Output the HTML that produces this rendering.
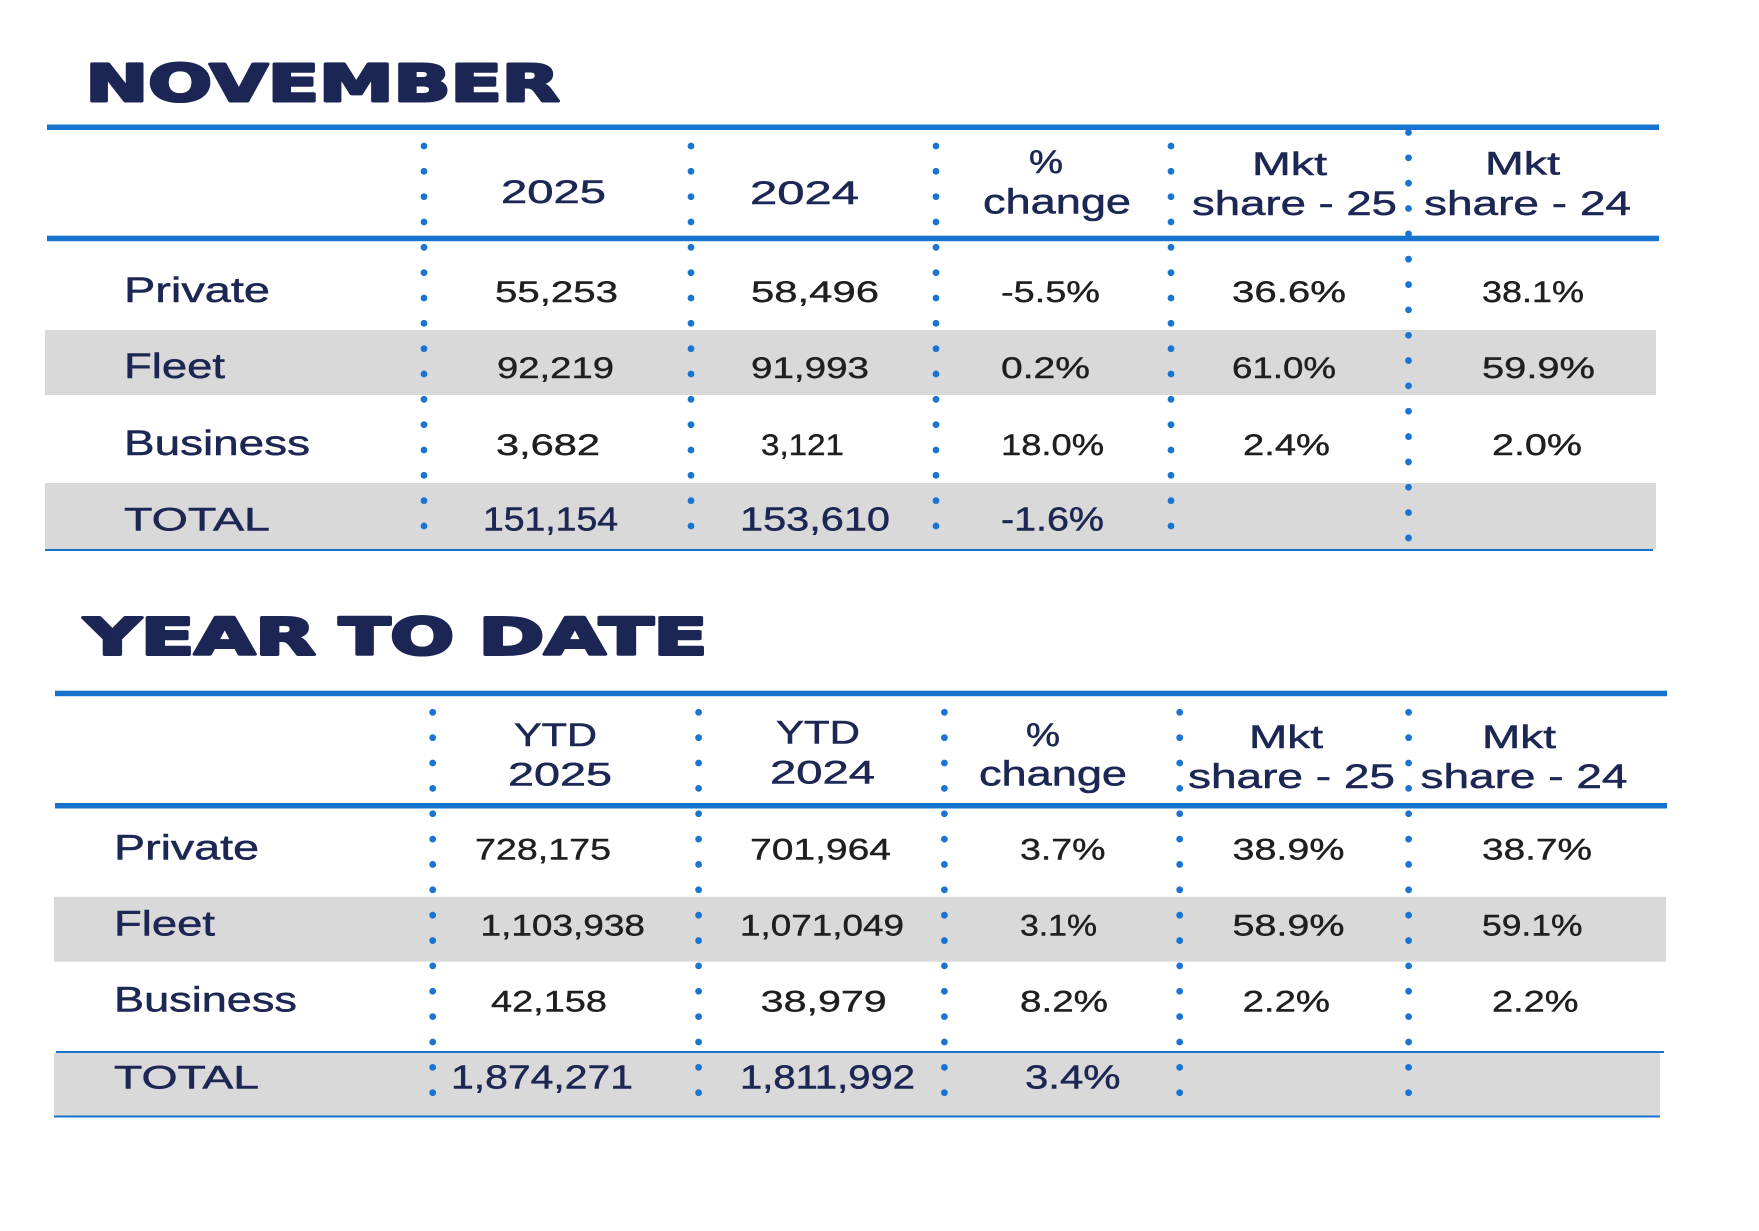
<!DOCTYPE html>
<html>
<head>
<meta charset="utf-8">
<style>
html,body{margin:0;padding:0;background:#fff;}
svg{display:block;}
.t{font-family:"Liberation Sans",Arial,sans-serif;}
.ttl{font-family:"DejaVu Sans","Liberation Sans",sans-serif;font-weight:bold;fill:#1c2654;stroke:#1c2654;stroke-width:3;stroke-linejoin:round;font-size:51px;}
.nv{fill:#1d2754;stroke:#1d2754;stroke-width:0.5;}
.bk{fill:#1f1f1f;stroke:#1f1f1f;stroke-width:0.4;font-size:29.5px;}
.h{font-size:32px;}
.lc{font-size:35px;}
.sh{font-size:34px;}
.lb{font-size:35px;}
.tot{font-size:32.5px;}
.tn{font-size:33px;}
.dot{stroke:#1a75d2;stroke-width:6.8;stroke-linecap:round;}
</style>
</head>
<body>
<svg width="1759" height="1231" viewBox="0 0 1759 1231" xmlns="http://www.w3.org/2000/svg">
<rect width="1759" height="1231" fill="#ffffff"/>

<!-- ============ TABLE 1 ============ -->
<rect x="45" y="330" width="1611" height="65" fill="#d9d9d9"/>
<rect x="45" y="483" width="1611" height="66" fill="#d9d9d9"/>
<rect x="47" y="124.5" width="1612" height="5.5" fill="#1674cf"/>
<rect x="47" y="235.7" width="1612" height="5.5" fill="#1674cf"/>
<rect x="45" y="549" width="1608" height="2" fill="#1674cf"/>

<line class="dot" x1="424" y1="146" x2="424" y2="527" stroke-dasharray="0 25.333"/>
<line class="dot" x1="691" y1="146" x2="691" y2="527" stroke-dasharray="0 25.333"/>
<line class="dot" x1="936" y1="146" x2="936" y2="527" stroke-dasharray="0 25.333"/>
<line class="dot" x1="1171" y1="146" x2="1171" y2="527" stroke-dasharray="0 25.333"/>
<line class="dot" x1="1408.5" y1="132.5" x2="1408.5" y2="539" stroke-dasharray="0 25.34"/>

<text class="ttl" x="85.5" y="101" textLength="474" lengthAdjust="spacingAndGlyphs">NOVEMBER</text>

<text class="t nv h" x="501" y="203" textLength="105" lengthAdjust="spacingAndGlyphs">2025</text>
<text class="t nv h" x="750" y="204" textLength="109" lengthAdjust="spacingAndGlyphs">2024</text>
<text class="t nv h" x="1029" y="173" textLength="34" lengthAdjust="spacingAndGlyphs">%</text>
<text class="t nv lc" x="983" y="213.5" textLength="148" lengthAdjust="spacingAndGlyphs">change</text>
<text class="t nv h" x="1252" y="175" textLength="75" lengthAdjust="spacingAndGlyphs">Mkt</text>
<text class="t nv sh" x="1192" y="215" textLength="205" lengthAdjust="spacingAndGlyphs">share - 25</text>
<text class="t nv h" x="1485" y="174.5" textLength="75" lengthAdjust="spacingAndGlyphs">Mkt</text>
<text class="t nv sh" x="1424" y="215" textLength="207" lengthAdjust="spacingAndGlyphs">share - 24</text>

<text class="t nv lb" x="124" y="302" textLength="146" lengthAdjust="spacingAndGlyphs">Private</text>
<text class="t bk" x="495" y="302" textLength="123" lengthAdjust="spacingAndGlyphs">55,253</text>
<text class="t bk" x="751" y="302" textLength="128" lengthAdjust="spacingAndGlyphs">58,496</text>
<text class="t bk" x="1001" y="302" textLength="99" lengthAdjust="spacingAndGlyphs">-5.5%</text>
<text class="t bk" x="1232" y="302" textLength="114" lengthAdjust="spacingAndGlyphs">36.6%</text>
<text class="t bk" x="1482" y="302" textLength="102" lengthAdjust="spacingAndGlyphs">38.1%</text>

<text class="t nv lb" x="124" y="378" textLength="101" lengthAdjust="spacingAndGlyphs">Fleet</text>
<text class="t bk" x="497" y="378" textLength="117" lengthAdjust="spacingAndGlyphs">92,219</text>
<text class="t bk" x="751" y="378" textLength="118" lengthAdjust="spacingAndGlyphs">91,993</text>
<text class="t bk" x="1001" y="378" textLength="89" lengthAdjust="spacingAndGlyphs">0.2%</text>
<text class="t bk" x="1232" y="378" textLength="104" lengthAdjust="spacingAndGlyphs">61.0%</text>
<text class="t bk" x="1482" y="378" textLength="113" lengthAdjust="spacingAndGlyphs">59.9%</text>

<text class="t nv lb" x="124" y="455" textLength="186" lengthAdjust="spacingAndGlyphs">Business</text>
<text class="t bk" x="496" y="455" textLength="104" lengthAdjust="spacingAndGlyphs">3,682</text>
<text class="t bk" x="761" y="455" textLength="83" lengthAdjust="spacingAndGlyphs">3,121</text>
<text class="t bk" x="1001" y="455" textLength="103" lengthAdjust="spacingAndGlyphs">18.0%</text>
<text class="t bk" x="1243" y="455" textLength="87" lengthAdjust="spacingAndGlyphs">2.4%</text>
<text class="t bk" x="1492" y="455" textLength="90" lengthAdjust="spacingAndGlyphs">2.0%</text>

<text class="t nv tot" x="124" y="530.5" textLength="146" lengthAdjust="spacingAndGlyphs">TOTAL</text>
<text class="t nv tn" x="483" y="530.5" textLength="135" lengthAdjust="spacingAndGlyphs">151,154</text>
<text class="t nv tn" x="740" y="530.5" textLength="150" lengthAdjust="spacingAndGlyphs">153,610</text>
<text class="t nv tn" x="1001" y="530.5" textLength="103" lengthAdjust="spacingAndGlyphs">-1.6%</text>

<!-- ============ TABLE 2 ============ -->
<rect x="54" y="896.7" width="1612" height="65" fill="#d9d9d9"/>
<rect x="54" y="1053" width="1606" height="62.5" fill="#d9d9d9"/>
<rect x="55" y="690.7" width="1612" height="5.5" fill="#1674cf"/>
<rect x="55" y="803" width="1612" height="5.5" fill="#1674cf"/>
<rect x="56" y="1051" width="1608" height="2" fill="#1674cf"/>
<rect x="54" y="1115.5" width="1606" height="2" fill="#1674cf"/>

<line class="dot" x1="432.7" y1="712.3" x2="432.7" y2="1093.5" stroke-dasharray="0 25.36"/>
<line class="dot" x1="698.6" y1="712.3" x2="698.6" y2="1093.5" stroke-dasharray="0 25.36"/>
<line class="dot" x1="944.4" y1="712.3" x2="944.4" y2="1093.5" stroke-dasharray="0 25.36"/>
<line class="dot" x1="1179.7" y1="712.3" x2="1179.7" y2="1093.5" stroke-dasharray="0 25.36"/>
<line class="dot" x1="1408.6" y1="712.3" x2="1408.6" y2="1093.5" stroke-dasharray="0 25.36"/>

<text class="ttl" x="84" y="654.3" textLength="231.5" lengthAdjust="spacingAndGlyphs">YEAR</text>
<text class="ttl" x="339" y="654.3" textLength="115" lengthAdjust="spacingAndGlyphs">TO</text>
<text class="ttl" x="478.5" y="654.3" textLength="229" lengthAdjust="spacingAndGlyphs">DATE</text>

<text class="t nv h" x="514" y="746" textLength="83" lengthAdjust="spacingAndGlyphs">YTD</text>
<text class="t nv h" x="508" y="785.5" textLength="104" lengthAdjust="spacingAndGlyphs">2025</text>
<text class="t nv h" x="776" y="743.3" textLength="84" lengthAdjust="spacingAndGlyphs">YTD</text>
<text class="t nv h" x="770" y="783.3" textLength="105" lengthAdjust="spacingAndGlyphs">2024</text>
<text class="t nv h" x="1026" y="746" textLength="34" lengthAdjust="spacingAndGlyphs">%</text>
<text class="t nv lc" x="979" y="785.5" textLength="148" lengthAdjust="spacingAndGlyphs">change</text>
<text class="t nv h" x="1249" y="748" textLength="74" lengthAdjust="spacingAndGlyphs">Mkt</text>
<text class="t nv sh" x="1188" y="788" textLength="207" lengthAdjust="spacingAndGlyphs">share - 25</text>
<text class="t nv h" x="1482" y="748" textLength="74" lengthAdjust="spacingAndGlyphs">Mkt</text>
<text class="t nv sh" x="1420.5" y="788" textLength="207" lengthAdjust="spacingAndGlyphs">share - 24</text>

<text class="t nv lb" x="114" y="859.5" textLength="145" lengthAdjust="spacingAndGlyphs">Private</text>
<text class="t bk" x="475" y="859.5" textLength="136" lengthAdjust="spacingAndGlyphs">728,175</text>
<text class="t bk" x="750" y="859.5" textLength="141" lengthAdjust="spacingAndGlyphs">701,964</text>
<text class="t bk" x="1020" y="859.5" textLength="85.5" lengthAdjust="spacingAndGlyphs">3.7%</text>
<text class="t bk" x="1232.5" y="859.5" textLength="112" lengthAdjust="spacingAndGlyphs">38.9%</text>
<text class="t bk" x="1482" y="859.5" textLength="110" lengthAdjust="spacingAndGlyphs">38.7%</text>

<text class="t nv lb" x="114" y="935.5" textLength="101" lengthAdjust="spacingAndGlyphs">Fleet</text>
<text class="t bk" x="480.5" y="935.5" textLength="164.5" lengthAdjust="spacingAndGlyphs">1,103,938</text>
<text class="t bk" x="740" y="935.5" textLength="164" lengthAdjust="spacingAndGlyphs">1,071,049</text>
<text class="t bk" x="1020" y="935.5" textLength="77" lengthAdjust="spacingAndGlyphs">3.1%</text>
<text class="t bk" x="1232.5" y="935.5" textLength="112" lengthAdjust="spacingAndGlyphs">58.9%</text>
<text class="t bk" x="1482" y="935.5" textLength="100.5" lengthAdjust="spacingAndGlyphs">59.1%</text>

<text class="t nv lb" x="114" y="1011.5" textLength="183" lengthAdjust="spacingAndGlyphs">Business</text>
<text class="t bk" x="491" y="1011.5" textLength="116" lengthAdjust="spacingAndGlyphs">42,158</text>
<text class="t bk" x="760.7" y="1011.5" textLength="126" lengthAdjust="spacingAndGlyphs">38,979</text>
<text class="t bk" x="1020" y="1011.5" textLength="88" lengthAdjust="spacingAndGlyphs">8.2%</text>
<text class="t bk" x="1242.6" y="1011.5" textLength="87.4" lengthAdjust="spacingAndGlyphs">2.2%</text>
<text class="t bk" x="1492" y="1011.5" textLength="86.5" lengthAdjust="spacingAndGlyphs">2.2%</text>

<text class="t nv tot" x="114" y="1088.5" textLength="145" lengthAdjust="spacingAndGlyphs">TOTAL</text>
<text class="t nv tn" x="451" y="1088.5" textLength="182" lengthAdjust="spacingAndGlyphs">1,874,271</text>
<text class="t nv tn" x="740" y="1088.5" textLength="175" lengthAdjust="spacingAndGlyphs">1,811,992</text>
<text class="t nv tn" x="1025" y="1088.5" textLength="95.5" lengthAdjust="spacingAndGlyphs">3.4%</text>
</svg>
</body>
</html>
